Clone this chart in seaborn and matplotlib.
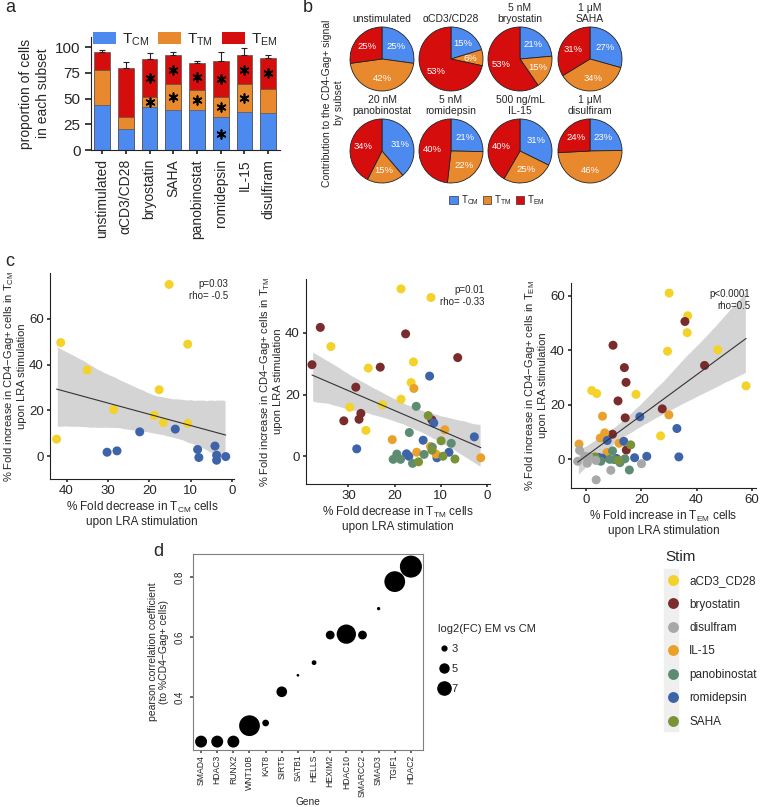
import numpy as np
import pandas as pd
import matplotlib.pyplot as plt
import seaborn as sns
from matplotlib.lines import Line2D
from matplotlib.patches import Patch, Rectangle

# figure size in pixels (dpi 100)
W, H = 760, 807

subset_colors = ['#4d8af0', '#e8892e', '#d60d0d']
subset_names = ['T$_{\\mathrm{CM}}$', 'T$_{\\mathrm{TM}}$', 'T$_{\\mathrm{EM}}$']

# panel a: mean share of each subset per condition
conditions = ['unstimulated', 'αCD3/CD28', 'bryostatin', 'SAHA',
              'panobinostat', 'romidepsin', 'IL-15', 'disulfiram']
tcm_pct = [43.5, 20, 41.5, 39, 39, 32, 37, 36]
ttm_pct = [34, 12.5, 10.5, 25.5, 19, 20, 27, 23]
tem_pct = [17.5, 47.5, 37, 27.5, 27, 35, 28, 31]
total_err = [2, 6, 5, 3, 2, 8, 7, 2]
star_cm = [False, False, False, False, False, True, False, False]
star_tm = [False, False, True, True, True, True, True, False]
star_em = [False, False, True, True, True, True, True, True]

# panel b: contribution to CD4-Gag+ signal
pie_titles = ['unstimulated', 'αCD3/CD28', '5 nM\nbryostatin', '1 μM\nSAHA',
              '20 nM\npanobinostat', '5 nM\nromidepsin', '500 ng/mL\nIL-15',
              '1 μM\ndisulfiram']
pie_tcm = [25, 15, 21, 27, 31, 21, 31, 23]
pie_ttm = [42, 6, 15, 34, 15, 22, 25, 46]
pie_tem = [25, 53, 53, 31, 34, 40, 40, 24]

# panel c: fold changes per donor / stimulation
stim_levels = ['aCD3_CD28', 'bryostatin', 'disulfram', 'IL-15',
               'panobinostat', 'romidepsin', 'SAHA']
stim_colors = ['#f3d22a', '#7a2b2b', '#a8a8a8', '#e9a12c',
               '#5e8c72', '#3d63a8', '#7a9238']

cm_x = [15.2, 41.4, 10.7, 35.0, 17.6, 28.6, 18.8, 16.6, 10.7, 42.4,
        22.3, 13.7, 30.2, 27.8, 8.3, 8.0, 4.1, 3.7, 3.7, 1.5]
cm_y = [75.0, 49.6, 48.9, 37.6, 29.0, 20.3, 17.8, 14.7, 14.3, 7.4,
        10.6, 11.8, 1.7, 2.3, 2.9, -0.6, 4.4, 0.4, -1.8, -0.2]
cm_stim = ['aCD3_CD28'] * 10 + ['romidepsin'] * 10

tm_x = [18.6, 12.1, 33.8, 25.7, 15.9, 16.4, 18.6, 22.6, 29.7, 26.2,
        36.1, 17.6, 6.3, 37.9, 23.1, 28.4, 27.3, 27.7, 31.0, 11.9,
        12.4, 2.7, 13.8, 11.5, 28.2, 8.2, 17.4, 16.9, 10.8,
        15.8, 9.1, 20.5, 12.2, 15.2, 11.0, 1.3,
        15.3, 16.8, 7.7, 19.5, 20.3, 18.7, 16.1, 13.6, 11.8,
        12.7, 9.9, 11.9, 9.5, 6.9, 14.8]
tm_y = [54.3, 51.5, 35.6, 28.6, 30.6, 23.9, 18.5, 16.7, 15.9, 8.4,
        41.8, 39.7, 32.0, 29.7, 28.9, 22.4, 13.9, 12.0, 11.5, 11.8,
        26.0, 6.3, 5.2, 10.8, 2.4, 1.3, 0.8, 0.0, -0.5,
        22.0, 8.6, 5.4, 3.2, 1.3, 0.7, -0.5,
        16.2, 7.7, 4.2, 0.7, -1.0, -1.0, -2.3, 0.6, 2.9,
        13.2, 5.0, 2.0, 0.0, -0.9, -1.8]
tm_stim = (['aCD3_CD28'] * 10 + ['bryostatin'] * 10 + ['romidepsin'] * 9
           + ['IL-15'] * 7 + ['panobinostat'] * 9 + ['SAHA'] * 6)

em_x = [30.1, 36.8, 36.6, 29.5, 47.7, 57.9, 2.1, 3.9, 18.1, 27.0,
        35.8, 9.8, 13.9, 14.5, 42.9, 11.6, 27.6, 14.2, 9.6, 14.6,
        6.0, 30.0, 6.8, 5.2, -2.5, 12.0, 7.6,
        19.5, 32.9, 7.7, 13.7, 33.6, 22.0, 17.6, 4.6, 5.9, 11.1,
        9.6, 8.6, 5.4, 12.3, 14.1, 15.7, 10.2,
        16.2, 3.3, 11.7,
        -2.3, -3.0, 0.5, -0.4, 3.7, 9.0, 20.1, 3.6, 1.1]
em_y = [60.9, 52.6, 46.4, 39.6, 40.1, 26.9, 25.2, 24.1, 23.8, 8.6,
        50.5, 41.8, 33.6, 28.2, 34.4, 21.4, 18.5, 15.2, 9.2, 3.4,
        15.8, 16.3, 9.7, 7.8, 5.6, 5.9, 2.5,
        15.6, 11.3, 6.9, 6.6, 0.9, 1.1, 0.6, 0.7, 0.4, 0.3,
        3.1, 0.0, -0.7, -1.2, 0.2, -3.9, -0.1,
        5.3, 0.9, -0.4,
        3.3, -0.7, -1.4, 1.1, -7.5, -4.0, -1.6, -0.4, 0.9]
em_stim = (['aCD3_CD28'] * 10 + ['bryostatin'] * 10 + ['IL-15'] * 7
           + ['romidepsin'] * 10 + ['panobinostat'] * 7 + ['SAHA'] * 3
           + ['disulfram'] * 9)

# panel d: gene correlation
genes = ['SMAD4', 'HDAC3', 'RUNX2', 'WNT10B', 'KAT8', 'SIRT5', 'SATB1',
         'HELLS', 'HEXIM2', 'HDAC10', 'SMARCC2', 'SMAD3', 'TGIF1', 'HDAC2']
pearson_r = [0.252, 0.252, 0.252, 0.305, 0.314, 0.418, 0.473,
             0.515, 0.607, 0.610, 0.607, 0.695, 0.785, 0.835]
log2fc = [6.4, 6.4, 6.4, 10.6, 3.9, 5.8, 2.0, 3.0, 4.9, 9.9, 4.9, 2.3, 10.6, 11.2]
size_breaks = [3, 5, 7]


def px_axes(fig, x0, y0, x1, y1):
    return fig.add_axes([x0 / W, 1 - y1 / H, (x1 - x0) / W, (y1 - y0) / H])


def dot_diameter_pt(v):
    # marker diameter grows linearly with log2FC
    return 0.72 * (2.1 * v - 1.5)


def plot_subsets(fig):
    ax = px_axes(fig, 91, 37, 280, 150)
    cm = np.array(tcm_pct)
    cmtm = cm + np.array(ttm_pct)
    total = cmtm + np.array(tem_pct)
    for vals, col in zip([total, cmtm, cm], subset_colors[::-1]):
        sns.barplot(x=conditions, y=vals, color=col, saturation=1, width=0.66,
                    edgecolor='#555555', linewidth=0.5, ax=ax)
    pos = np.arange(len(conditions))
    ax.errorbar(pos, total, yerr=[np.zeros(len(pos)), total_err], fmt='none',
                ecolor='#222222', elinewidth=0.8, capsize=2.5, capthick=0.8)
    for low, high, flags in [(np.zeros(len(pos)), cm, star_cm),
                             (cm, cmtm, star_tm), (cmtm, total, star_em)]:
        flags = np.array(flags)
        mid = (low + high) / 2
        ax.scatter(pos[flags], mid[flags], marker=(6, 2, 0), s=40,
                   color='black', linewidth=1.2, zorder=5)
    ax.set_ylim(0, 110)
    ax.set_xlim(-0.47, 7.5)
    ax.set_yticks([0, 25, 50, 75, 100])
    ax.tick_params(axis='y', labelsize=11, length=4)
    ax.tick_params(axis='x', labelsize=10, rotation=90, length=3)
    ax.set_ylabel('proportion of cells\nin each subset', fontsize=10)
    sns.despine(ax=ax)
    handles = [Patch(facecolor=c, edgecolor='none') for c in subset_colors]
    ax.legend(handles, subset_names, ncol=3, loc='center',
              bbox_to_anchor=(0.5, 0.975), frameon=False, fontsize=11,
              handlelength=1.5, handleheight=0.8, columnspacing=0.6,
              handletextpad=0.4, borderpad=0)


def plot_pies(fig):
    centers_x = [382, 451, 520, 590]
    centers_y = [59, 151]
    for i, title in enumerate(pie_titles):
        cx = centers_x[i % 4]
        cy = centers_y[i // 4]
        ax = px_axes(fig, cx - 40, cy - 40, cx + 40, cy + 40)
        vals = [pie_tcm[i], pie_ttm[i], pie_tem[i]]
        wedges, texts = ax.pie(vals, colors=subset_colors, startangle=90,
                               counterclock=False, labels=[f'{v}%' for v in vals],
                               labeldistance=0.6,
                               wedgeprops=dict(edgecolor='#222222', linewidth=0.6),
                               textprops=dict(color='white', fontsize=6.8))
        for t in texts:
            t.set_ha('center')
            t.set_va('center')
        ax.set_xlim(-1.25, 1.25)
        ax.set_ylim(-1.25, 1.25)
        ax.text(0, 1.1, title, ha='center', va='bottom', fontsize=7.5,
                linespacing=1.15)
    fig.text(333 / W, 1 - 103 / H, 'Contribution to the CD4-Gag+ signal\nby subset',
             rotation=90, ha='center', va='center', fontsize=7.5)
    handles = [Patch(facecolor=c, edgecolor='#333333', linewidth=0.5)
               for c in subset_colors]
    fig.legend(handles, subset_names, ncol=3, loc='center',
               bbox_to_anchor=(497 / W, 1 - 200 / H), frameon=False,
               fontsize=7, handlelength=0.9, handleheight=0.9,
               columnspacing=0.4, handletextpad=0.3)


def plot_fold(ax, xs, ys, stim, xlim, ylim, xticks, yticks, xlabel, ylabel, stats):
    df = pd.DataFrame({'x': xs, 'y': ys, 'Stim': stim})
    sns.regplot(data=df, x='x', y='y', scatter=False, ax=ax, color='#333333',
                seed=3, line_kws={'linewidth': 0.8})
    band = ax.collections[-1]
    band.set_facecolor('#d4d4d4')
    band.set_alpha(1)
    band.set_zorder(0.5)
    ax.lines[-1].set_zorder(3)
    sns.scatterplot(data=df, x='x', y='y', hue='Stim',
                    palette=dict(zip(stim_levels, stim_colors)), s=42,
                    linewidth=0, legend=False, ax=ax, zorder=2)
    ax.set_xlim(*xlim)
    ax.set_ylim(*ylim)
    ax.set_xticks(xticks)
    ax.set_yticks(yticks)
    ax.tick_params(labelsize=9.5, length=2.5, pad=2, color='#333333')
    ax.set_xlabel(xlabel, fontsize=8.5, linespacing=1.1, labelpad=2)
    ax.set_ylabel(ylabel, fontsize=8, linespacing=1.1, labelpad=1.5)
    ax.text(0.97, 0.97, stats, transform=ax.transAxes, ha='right', va='top',
            fontsize=7)
    sns.despine(ax=ax)


def plot_genes(fig):
    ax = px_axes(fig, 193, 554, 423, 750)
    df = pd.DataFrame({'Gene': genes, 'r': pearson_r, 'lfc': log2fc})
    sizes = {v: dot_diameter_pt(v) ** 2 for v in set(log2fc)}
    sns.scatterplot(data=df, x='Gene', y='r', size='lfc', sizes=sizes,
                    color='black', linewidth=0, legend=False, ax=ax)
    ax.set_xlim(-0.5, 13.75)
    ax.set_ylim(0.224, 0.877)
    ax.set_yticks([0.4, 0.6, 0.8])
    ax.tick_params(axis='x', rotation=90, labelsize=6.2, length=2.5,
                   color='#555555', pad=1)
    ax.tick_params(axis='y', rotation=90, labelsize=7, length=2.5,
                   color='#555555')
    for t in ax.get_yticklabels():
        t.set_va('center')
    for s in ax.spines.values():
        s.set_visible(True)
        s.set_color('#7f7f7f')
        s.set_linewidth(0.8)
    ax.set_xlabel('Gene', fontsize=7.3, labelpad=0)
    ax.set_ylabel('pearson correlation coefficient\n(to %CD4−Gag+ cells)',
                  fontsize=7.5)

    handles = [Line2D([], [], marker='o', ls='', color='black',
                      markersize=dot_diameter_pt(v)) for v in size_breaks]
    fig.legend(handles, [str(v) for v in size_breaks],
               title='log2(FC) EM vs CM', loc='upper left',
               bbox_to_anchor=(428 / W, 1 - 614 / H), frameon=False,
               fontsize=8, title_fontsize=8, alignment='left',
               labelspacing=0.9, handlelength=1.0, handletextpad=0.2)


def plot_stim_legend(fig):
    fig.add_artist(Rectangle((664 / W, 1 - 731 / H), 14 / W, 162 / H,
                             transform=fig.transFigure, color='#efefef',
                             zorder=0))
    handles = [Line2D([], [], marker='o', ls='', color=c, markersize=6.8)
               for c in stim_colors]
    fig.legend(handles, stim_levels, title='Stim', loc='upper left',
               bbox_to_anchor=(655 / W, 1 - 539 / H), frameon=False,
               fontsize=8.5, title_fontsize=11, alignment='left',
               labelspacing=0.97, handlelength=1.3, handletextpad=0.7)


def main():
    sns.set_theme(style='ticks')
    plt.rcParams['font.family'] = ['Liberation Sans', 'DejaVu Sans']
    plt.rcParams['mathtext.fontset'] = 'custom'
    plt.rcParams['mathtext.rm'] = 'Liberation Sans'
    plt.rcParams['mathtext.it'] = 'Liberation Sans:italic'
    plt.rcParams['axes.edgecolor'] = '#222222'
    plt.rcParams['axes.linewidth'] = 0.8

    fig = plt.figure(figsize=(W / 100, H / 100), dpi=100)

    plot_subsets(fig)
    plot_pies(fig)

    ax1 = px_axes(fig, 50, 273, 234, 479)
    plot_fold(ax1, cm_x, cm_y, cm_stim, (44, -0.5), (-10, 80),
              [40, 30, 20, 10, 0], [0, 20, 40, 60],
              '% Fold decrease in T$_{\\mathrm{CM}}$ cells\nupon LRA stimulation',
              '% Fold increase in CD4−Gag+ cells in T$_{\\mathrm{CM}}$\nupon LRA stimulation',
              'p=0.03\nrho= -0.5')
    ax2 = px_axes(fig, 306, 279, 490, 484)
    plot_fold(ax2, tm_x, tm_y, tm_stim, (39.2, -0.7), (-9, 57.5),
              [30, 20, 10, 0], [0, 20, 40],
              '% Fold decrease in T$_{\\mathrm{TM}}$ cells\nupon LRA stimulation',
              '% Fold increase in CD4−Gag+ cells in T$_{\\mathrm{TM}}$\nupon LRA stimulation',
              'p=0.01\nrho= -0.33')
    ax3 = px_axes(fig, 571, 283, 756, 488)
    plot_fold(ax3, em_x, em_y, em_stim, (-5.4, 61.5), (-10.5, 64.6),
              [0, 20, 40, 60], [0, 20, 40, 60],
              '% Fold increase in T$_{\\mathrm{EM}}$ cells\nupon LRA stimulation',
              '% Fold increase in CD4−Gag+ cells in T$_{\\mathrm{EM}}$\nupon LRA stimulation',
              'p<0.0001\nrho=0.5')

    plot_genes(fig)
    plot_stim_legend(fig)

    for letter, x, y in [('a', 5, 8), ('b', 303, 8), ('c', 5, 261), ('d', 153, 552)]:
        fig.text(x / W, 1 - y / H, letter, fontsize=13, ha='left', va='center')

    fig.savefig('out.png', dpi=100)


if __name__ == '__main__':
    main()
